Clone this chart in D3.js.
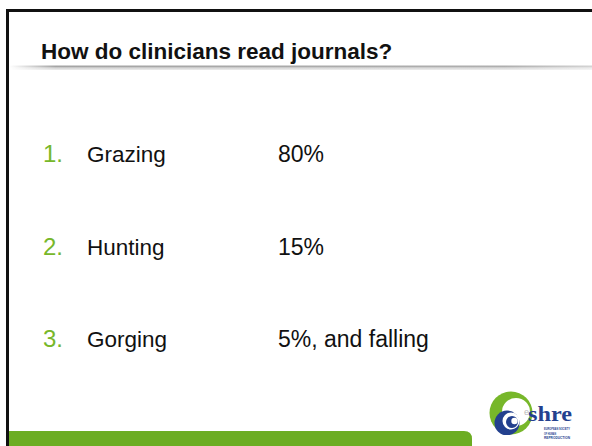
<!DOCTYPE html>
<html lang="en">

<head>
  <title></title>
  <meta charset="UTF-8">
  <style>
    body {
      margin: 0;
      background: #fff;
    }
  </style>
</head>

<body>
  <div id="container"></div>
  <script src="https://cdn.jsdelivr.net/npm/d3@7"></script>
  <script>
    const size = { w: 592, h: 446 };
    const title = 'How do clinicians read journals?';
    const ranks = ['1.', '2.', '3.'];
    const labels = ['Grazing', 'Hunting', 'Gorging'];
    const values = ['80%', '15%', '5%, and falling'];
    const logoLines = ['EUROPEAN SOCIETY', 'OF HUMAN', 'REPRODUCTION'];

    const green = '#77b72a';
    const barGreen = '#6cad22';
    const blue = '#23408e';
    const font = '"Liberation Sans", Arial, Helvetica, sans-serif';

    const svg = d3.select('#container')
      .append('svg')
      .attr('width', size.w)
      .attr('height', size.h)
      .style('display', 'block');

    const defs = svg.append('defs');
    const grad = defs.append('linearGradient')
      .attr('id', 'shade')
      .attr('x1', 0).attr('x2', 1).attr('y1', 0).attr('y2', 0);
    grad.append('stop').attr('offset', '0%').attr('stop-color', '#fff');
    grad.append('stop').attr('offset', '8%').attr('stop-color', '#9a9a9a');
    grad.append('stop').attr('offset', '85%').attr('stop-color', '#a6a6a6');
    grad.append('stop').attr('offset', '100%').attr('stop-color', '#cfcfcf');

    // slide frame
    svg.append('rect').attr('x', 6).attr('y', 9).attr('width', size.w - 6).attr('height', 3).attr('fill', '#111');
    svg.append('rect').attr('x', 6).attr('y', 9).attr('width', 3).attr('height', size.h - 9).attr('fill', '#111');

    // title
    svg.append('text')
      .attr('x', 41)
      .attr('y', 59)
      .attr('font-family', font)
      .attr('font-weight', 'bold')
      .attr('font-size', 22.5)
      .attr('fill', '#111')
      .text(title);

    // shadow rule under title
    [[65.5, 1.5, 0.9], [67, 1.5, 0.55], [68.5, 1.5, 0.25]].forEach(function (s) {
      svg.append('rect')
        .attr('x', 9).attr('y', s[0]).attr('width', size.w - 9).attr('height', s[1])
        .attr('fill', 'url(#shade)').attr('opacity', s[2]);
    });

    // rows
    const y = d3.scalePoint()
      .domain(ranks)
      .range([162, 347]);

    const rows = svg.append('g')
      .selectAll('g')
      .data(ranks)
      .join('g')
      .attr('transform', d => 'translate(0,' + y(d) + ')');

    rows.append('text')
      .attr('x', 43)
      .attr('font-family', font)
      .attr('font-size', 24)
      .attr('fill', green)
      .text(d => d);

    rows.append('text')
      .attr('x', 87)
      .attr('font-family', font)
      .attr('font-size', 22.5)
      .attr('fill', '#111')
      .text((d, i) => labels[i]);

    rows.append('text')
      .attr('x', 278)
      .attr('font-family', font)
      .attr('font-size', 23)
      .attr('fill', '#111')
      .text((d, i) => values[i]);

    // green footer bar with rounded top-right corner
    const bx0 = 9, bx1 = 472, by0 = 431, r = 8;
    svg.append('path')
      .attr('d', 'M' + bx0 + ',' + size.h + 'V' + by0 + 'H' + (bx1 - r) +
        'Q' + bx1 + ',' + by0 + ' ' + bx1 + ',' + (by0 + r) + 'V' + size.h + 'Z')
      .attr('fill', barGreen);

    // logo
    const logo = svg.append('g');
    logo.append('circle').attr('cx', 511).attr('cy', 413).attr('r', 21.5).attr('fill', green);
    logo.append('circle').attr('cx', 516).attr('cy', 412).attr('r', 14).attr('fill', '#fff');
    logo.append('circle').attr('cx', 507).attr('cy', 423).attr('r', 12.5).attr('fill', blue);
    logo.append('circle').attr('cx', 511).attr('cy', 421).attr('r', 8.5).attr('fill', '#fff');
    logo.append('circle').attr('cx', 512).attr('cy', 422).attr('r', 6).attr('fill', blue);
    logo.append('circle').attr('cx', 514.5).attr('cy', 421).attr('r', 3.2).attr('fill', '#fff');
    logo.append('rect').attr('x', 494).attr('y', 435).attr('width', 30).attr('height', 11).attr('fill', '#fff');
    logo.append('text')
      .attr('x', 524).attr('y', 415)
      .attr('font-family', font).attr('font-size', 9).attr('fill', '#bbb')
      .text('e');
    logo.append('text')
      .attr('x', 528).attr('y', 421)
      .attr('font-family', '"Liberation Serif", "DejaVu Serif", serif')
      .attr('font-weight', 'bold')
      .attr('font-size', 20)
      .attr('textLength', 44)
      .attr('lengthAdjust', 'spacingAndGlyphs')
      .attr('fill', blue)
      .text('shre');
    logo.selectAll('.small')
      .data(logoLines)
      .join('text')
      .attr('class', 'small')
      .attr('x', 544)
      .attr('y', (d, i) => 430 + i * 4.5)
      .attr('font-family', font)
      .attr('font-weight', 'bold')
      .attr('font-size', 3.2)
      .attr('textLength', (d, i) => i === 1 ? 12 : 26)
      .attr('lengthAdjust', 'spacingAndGlyphs')
      .attr('fill', blue)
      .text(d => d);
  </script>
</body>

</html>
